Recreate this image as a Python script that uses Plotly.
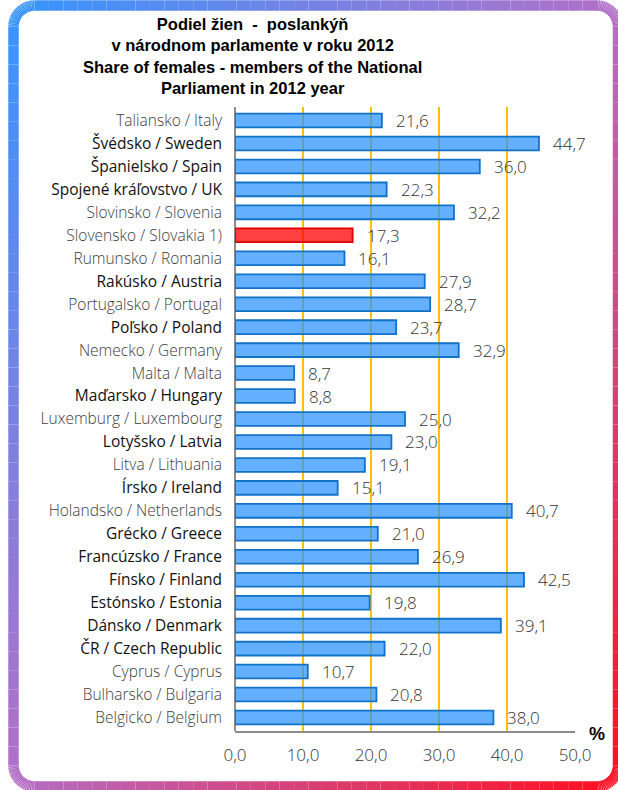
import numpy as np
import plotly.graph_objects as go

# Share of women among members of national parliaments, 2012 (%)
countries = [
    "Taliansko / Italy", "Švédsko / Sweden", "Španielsko / Spain",
    "Spojené kráľovstvo / UK", "Slovinsko / Slovenia", "Slovensko / Slovakia 1)",
    "Rumunsko / Romania", "Rakúsko / Austria", "Portugalsko / Portugal",
    "Poľsko / Poland", "Nemecko / Germany", "Malta / Malta",
    "Maďarsko / Hungary", "Luxemburg / Luxembourg", "Lotyšsko / Latvia",
    "Litva / Lithuania", "Írsko / Ireland", "Holandsko / Netherlands",
    "Grécko / Greece", "Francúzsko / France", "Fínsko / Finland",
    "Estónsko / Estonia", "Dánsko / Denmark", "ČR / Czech Republic",
    "Cyprus / Cyprus", "Bulharsko / Bulgaria", "Belgicko / Belgium",
]
values = [
    21.6, 44.7, 36.0, 22.3, 32.2, 17.3, 16.1, 27.9, 28.7, 23.7, 32.9, 8.7, 8.8,
    25.0, 23.0, 19.1, 15.1, 40.7, 21.0, 26.9, 42.5, 19.8, 39.1, 22.0, 10.7, 20.8, 38.0,
]
# labels written in the darker, heavier style
dark_labels = [
    "Švédsko / Sweden", "Španielsko / Spain", "Spojené kráľovstvo / UK",
    "Rakúsko / Austria", "Poľsko / Poland", "Maďarsko / Hungary",
    "Lotyšsko / Latvia", "Írsko / Ireland", "Grécko / Greece",
    "Francúzsko / France", "Fínsko / Finland", "Estónsko / Estonia",
    "Dánsko / Denmark", "ČR / Czech Republic",
]
highlight = "Slovensko / Slovakia 1)"
x_ticks = [0, 10, 20, 30, 40, 50]

title_lines = [
    "Podiel žien  -  poslankýň",
    "v národnom parlamente v roku 2012",
    "Share of females - members of the National",
    "Parliament in 2012 year",
]

W, H = 618, 790
ML, MR, MT, MB = 235, 43, 107, 59
PW, PH = W - ML - MR, H - MT - MB


def px_to_paper(px, py):
    return (px - ML) / PW, 1 - (py - MT) / PH


fill = ["rgba(255,0,0,0.75)" if c == highlight else "rgba(40,145,255,0.72)" for c in countries]
edge = ["#e00000" if c == highlight else "#1272c8" for c in countries]

fig = go.Figure()
fig.add_trace(go.Bar(
    x=values, y=countries, orientation="h", width=0.6,
    marker=dict(color=fill, line=dict(color=edge, width=1.8)),
    hoverinfo="skip",
))

# value labels just past each bar end
for c, v in zip(countries, values):
    fig.add_annotation(
        x=v, y=c, xref="x", yref="y", text=f"{v:.1f}".replace(".", ","),
        showarrow=False, xanchor="left", xshift=12,
        font=dict(family="Open Sans", size=17, color="#333333", weight=300),
    )

ticktext = []
for c in countries:
    if c in dark_labels:
        ticktext.append(f'<span style="fill:#111111;font-weight:400">{c}</span>')
    else:
        ticktext.append(f'<span style="fill:#3c3c3c;font-weight:300">{c}</span>')

fig.update_yaxes(
    type="category", autorange="reversed", tickmode="array",
    tickvals=countries, ticktext=ticktext, ticks="", ticklabelstandoff=12,
    showgrid=False, showline=False, zeroline=False,
    tickfont=dict(family="Open Sans", size=15.5, color="#111111"),
)
fig.update_xaxes(
    range=[0, 50], tickmode="array", tickvals=x_ticks, tickformat=".1f",
    showgrid=True, gridcolor="#ffc000", gridwidth=1.5,
    zeroline=True, zerolinecolor="#8c8c8c", zerolinewidth=1.5,
    showline=True, linecolor="#8c8c8c", linewidth=1.5, mirror=False,
    ticks="", ticklabelstandoff=8,
    tickfont=dict(family="Open Sans", size=17, color="#333333", weight=300),
)

# title
tx, ty = px_to_paper(252, 56)
fig.add_annotation(
    x=tx, y=ty, xref="paper", yref="paper", showarrow=False,
    text="<br>".join(title_lines), xanchor="center", yanchor="middle",
    font=dict(family="Liberation Sans", size=16.5, color="#000000", weight="bold"),
)

# unit label
ux, uy = px_to_paper(597, 734)
fig.add_annotation(
    x=ux, y=uy, xref="paper", yref="paper", showarrow=False, text="<b>%</b>",
    xanchor="center", yanchor="middle",
    font=dict(family="Liberation Sans", size=18, color="#000000"),
)


# rounded frame with a diagonal blue-purple-red gradient
def frame_points(x0, y0, x1, y1, r, n_side=40, n_arc=24):
    pts = []
    pts += [(x, y0) for x in np.linspace(x0 + r, x1 - r, n_side)]
    pts += [(x1 - r + r * np.cos(a), y0 + r + r * np.sin(a)) for a in np.radians(np.linspace(-90, 0, n_arc))]
    pts += [(x1, y) for y in np.linspace(y0 + r, y1 - r, n_side)]
    pts += [(x1 - r + r * np.cos(a), y1 - r + r * np.sin(a)) for a in np.radians(np.linspace(0, 90, n_arc))]
    pts += [(x, y1) for x in np.linspace(x1 - r, x0 + r, n_side)]
    pts += [(x0 + r + r * np.cos(a), y1 - r + r * np.sin(a)) for a in np.radians(np.linspace(90, 180, n_arc))]
    pts += [(x0, y) for y in np.linspace(y1 - r, y0 + r, n_side)]
    pts += [(x0 + r + r * np.cos(a), y0 + r + r * np.sin(a)) for a in np.radians(np.linspace(180, 270, n_arc))]
    return pts


stops = [(0.0, (51, 150, 255)), (0.5, (178, 112, 200)), (1.0, (255, 14, 30))]


def grad(t):
    t = min(max(t, 0), 1)
    for (t0, c0), (t1, c1) in zip(stops[:-1], stops[1:]):
        if t <= t1:
            f = (t - t0) / (t1 - t0)
            return "rgb({},{},{})".format(*[round(a + (b - a) * f) for a, b in zip(c0, c1)])
    return "rgb({},{},{})".format(*stops[-1][1])


pts = frame_points(13.5, 5.5, 618, 786.5, 21)
shapes = []
for (ax_, ay_), (bx_, by_) in zip(pts[:-1], pts[1:]):
    if abs(ax_ - bx_) < 1e-6 and abs(ay_ - by_) < 1e-6:
        continue
    t = ((ax_ + bx_) / 2 / W + (ay_ + by_) / 2 / H) / 2
    p0 = px_to_paper(ax_, ay_)
    p1 = px_to_paper(bx_, by_)
    shapes.append(dict(
        type="line", xref="paper", yref="paper",
        x0=p0[0], y0=p0[1], x1=p1[0], y1=p1[1],
        line=dict(color=grad(t), width=10.5), layer="below",
    ))

fig.update_layout(
    width=W, height=H, margin=dict(l=ML, r=MR, t=MT, b=MB, autoexpand=False),
    paper_bgcolor="white", plot_bgcolor="white", showlegend=False,
    separators=", ", shapes=shapes, bargap=0.4,
)

fig.write_html("out.html")
